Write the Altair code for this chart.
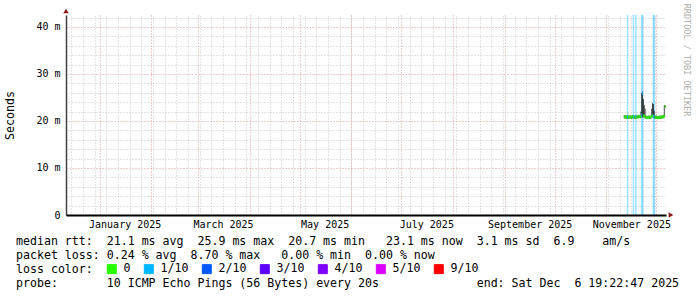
import altair as alt
import pandas as pd

MONO = "DejaVu Sans Mono"
GRID = "#c8c8c8"
MGRID = "#e09a9a"

# ---- time window (last 360 days) ----
START = alt.DateTime(year=2024, month=12, date=11, hours=19, minutes=22, seconds=47)
END = alt.DateTime(year=2025, month=12, date=6, hours=19, minutes=22, seconds=47)

# ---- loss colour legend ----
loss_levels = ["0", "1/10", "2/10", "3/10", "4/10", "5/10", "9/10"]
loss_colors = ["#26ff00", "#00b8ff", "#0059ff", "#5e00ff", "#7e00ff", "#dd00ff", "#ff0000"]

# ---- 12-hour samples starting 2025-11-11 12:00 ----
sample_start = "2025-11-11 12:00"
median_ms = [20.9, 20.8, 20.9, 20.8, 20.9, 20.8, 20.8, 20.9, 20.8, 20.8,
             20.9, 20.9, 20.8, 20.8, 20.9, 20.8, 20.9, 20.9, 21.0, 20.9,
             21.0, 21.2, 25.9, 21.1, 21.0, 20.9, 20.8, 20.8, 20.7, 20.8,
             20.8, 20.7, 20.8, 21.0, 21.1, 21.0, 20.9, 20.8, 20.8, 20.8,
             20.7, 20.7, 20.8, 20.8, 20.8, 20.8, 20.9, 20.9, 21.0, 23.1]
loss = ["0", "0", "0", "0", "1/10", "0", "0", "0", "0", "0",
        "0", "1/10", "0", "0", "1/10", "0", "0", "0", "0", "0",
        "0", "1/10", "1/10", "0", "0", "0", "0", "0", "0", "0",
        "0", "0", "0", "0", "0", "1/10", "1/10", "0", "0", "0",
        "0", "0", "0", "0", "0", "0", "0", "0", "0", "0"]
smoke_lo = [20.6, 20.5, 20.6, 20.5, 20.6, 20.5, 20.5, 20.6, 20.5, 20.5,
            20.6, 20.6, 20.5, 20.5, 20.6, 20.5, 20.6, 20.6, 20.7, 20.6,
            20.7, 20.8, 20.8, 20.8, 20.7, 20.6, 20.5, 20.5, 20.4, 20.5,
            20.5, 20.4, 20.5, 20.7, 20.8, 20.7, 20.6, 20.5, 20.5, 20.5,
            20.4, 20.4, 20.5, 20.5, 20.5, 20.5, 20.6, 20.6, 20.7, 22.8]
smoke_hi = [21.2, 21.1, 21.2, 21.1, 21.2, 21.1, 21.1, 21.2, 21.1, 21.1,
            21.2, 21.2, 21.1, 21.1, 21.2, 21.1, 21.2, 21.2, 21.3, 21.2,
            22.0, 26.0, 26.3, 24.6, 23.4, 22.6, 21.1, 21.1, 21.0, 21.1,
            21.1, 21.0, 21.1, 22.6, 23.8, 23.6, 22.2, 21.1, 21.1, 21.1,
            21.0, 21.0, 21.1, 21.1, 21.1, 21.1, 21.2, 21.2, 23.3, 23.4]

# ---- axis ticks / grid ----
week_starts = pd.date_range("2024-12-15", "2025-12-06", freq="7D")
month_starts = list(range(1, 13))
label_months = [1, 3, 5, 7, 9, 11]
y_major = [0, 10, 20, 30, 40]
y_minor = [v for v in range(2, 43, 2) if v % 10]

# ---- legend text ----
lines = [
    "median rtt:  21.1 ms avg  25.9 ms max  20.7 ms min   23.1 ms now  3.1 ms sd  6.9    am/s",
    "packet loss: 0.24 % avg  8.70 % max   0.00 % min  0.00 % now",
    "loss color:",
    "probe:       10 ICMP Echo Pings (56 Bytes) every 20s              end: Sat Dec  6 19:22:47 2025",
]
watermark = "RRDTOOL / TOBI OETIKER"

times = pd.date_range(sample_start, periods=len(median_ms), freq="12h")
df = pd.DataFrame({
    "t": times,
    "t_end": times + pd.Timedelta(hours=12),
    "median": median_ms,
    "loss": loss,
    "lo": smoke_lo,
    "hi": smoke_hi,
})
# non-breaking spaces keep the column alignment of the monospaced legend text
legend_text = "\n".join(l.replace(" ", "\u00a0") for l in lines)
text_df = pd.DataFrame({"txt": [legend_text], "wm": [watermark]})

xs = alt.Scale(domain=[START, END])
ys = alt.Scale(domain=[0, 42.55], nice=False, zero=False)
cs = alt.Scale(domain=loss_levels, range=loss_colors)

weeks = [alt.DateTime(year=d.year, month=d.month, date=d.day) for d in week_starts]
months = [alt.DateTime(year=2025, month=m, date=1) for m in month_starts]
label_dates = [alt.DateTime(year=2025, month=m, date=16) for m in label_months]

ax_week = alt.Axis(orient="bottom", values=weeks, grid=True, gridColor=GRID, gridDash=[1, 2],
                   labels=False, ticks=False, domain=False, title=None)
ax_month = alt.Axis(orient="bottom", values=months, grid=True, gridColor=MGRID, gridDash=[1, 2],
                    labels=False, ticks=False, domain=False, title=None)
ax_xlab = alt.Axis(orient="bottom", values=label_dates, format="%B %Y", grid=False, ticks=False,
                   domain=True, domainColor="#000000", domainWidth=2, labelFont=MONO,
                   labelFontSize=10, labelColor="black", labelPadding=4, labelFlush=False,
                   labelOverlap=False, title=None, zindex=1)
ay_minor = alt.Axis(orient="left", values=y_minor, grid=True, gridColor=GRID, gridDash=[1, 2],
                    labels=False, ticks=False, domain=False, title=None)
ay_major = alt.Axis(orient="left", values=y_major, grid=True, gridColor=MGRID, gridDash=[1, 2],
                    labelExpr="datum.value == 0 ? '0' : datum.value + ' m'",
                    labelFont=MONO, labelFontSize=10, labelColor="black", labelPadding=6,
                    ticks=False, domain=True, domainColor="#404040", domainWidth=1.5,
                    title="Seconds", titleFont=MONO, titleFontSize=11.6, titleFontWeight="normal",
                    titleColor="black", titleX=-56, titleY=100, titleAngle=270,
                    titleAlign="center", titleBaseline="middle")

leg = alt.Legend(
    title=None, orient="none", legendX=40, legendY=248, direction="horizontal",
    symbolType="square", symbolSize=81, symbolStrokeWidth=1, symbolStrokeColor="black",
    symbolOpacity=1, labelFont=MONO, labelFontSize=11.6, labelColor="black", labelOffset=6,
    columnPadding=11, padding=0,
)

bg = alt.Chart(df).transform_filter("datum.loss != '0'").mark_rect(
    opacity=0.4, strokeWidth=0.6
).encode(
    x=alt.X("t:T", scale=xs, axis=ax_week),
    x2="t_end:T",
    fill=alt.Fill("loss:N", scale=cs, legend=leg),
    stroke=alt.Stroke("loss:N", scale=cs, legend=None),
)

smoke = alt.Chart(df).mark_rect(color="#222222").encode(
    x=alt.X("t:T", scale=xs, axis=ax_month),
    x2="t_end:T",
    y=alt.Y("lo:Q", scale=ys, axis=ay_minor),
    y2="hi:Q",
)

med = alt.Chart(df).mark_rule(strokeWidth=3, strokeCap="butt").encode(
    x=alt.X("t:T", scale=xs, axis=ax_xlab),
    x2="t_end:T",
    y=alt.Y("median:Q", scale=ys, axis=ay_major),
    stroke=alt.Stroke("loss:N", scale=cs, legend=None),
)

txt = alt.Chart(text_df).mark_text(
    align="left", baseline="alphabetic", font=MONO, fontSize=11.6, lineHeight=14,
    lineBreak="\n", color="black"
).encode(text="txt:N", x=alt.value(-50), y=alt.value(230))

wm = alt.Chart(text_df).mark_text(
    angle=90, align="center", baseline="middle", font=MONO, fontSize=8.5, color="#b0b0b0"
).encode(text="wm:N", x=alt.value(621), y=alt.value(45))

arrow_up = alt.Chart(text_df).mark_point(shape="triangle-up", filled=True, size=30,
                                         color="#8b1a1a", opacity=1).encode(
    x=alt.value(0), y=alt.value(-4))
arrow_right = alt.Chart(text_df).mark_point(shape="triangle-right", filled=True, size=30,
                                            color="#8b1a1a", opacity=1).encode(
    x=alt.value(605), y=alt.value(200))

chart = alt.layer(bg, smoke, med, txt, wm, arrow_up, arrow_right).resolve_axis(
    x="independent", y="independent"
).properties(
    width=600, height=200,
    padding={"left": 66, "top": 15, "right": 31, "bottom": 82},
    autosize=alt.AutoSizeParams(type="none"),
    background="white",
).configure_view(stroke=None)

chart.save("out.html", embed_options={"renderer": "svg", "actions": False})
